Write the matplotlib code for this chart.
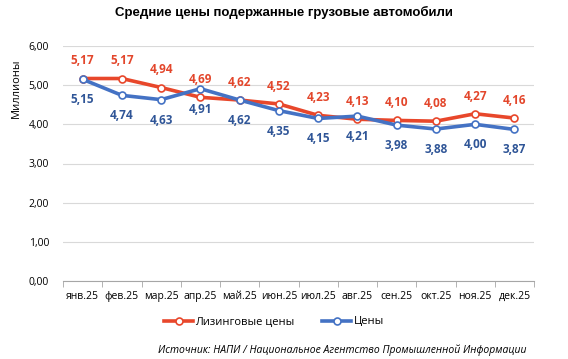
import numpy as np
import matplotlib.pyplot as plt

months = ['янв.25', 'фев.25', 'мар.25', 'апр.25', 'май.25', 'июн.25',
          'июл.25', 'авг.25', 'сен.25', 'окт.25', 'ноя.25', 'дек.25']
leasing = [5.17, 5.17, 4.94, 4.69, 4.62, 4.52, 4.23, 4.13, 4.10, 4.08, 4.27, 4.16]
prices = [5.15, 4.74, 4.63, 4.91, 4.62, 4.35, 4.15, 4.21, 3.98, 3.88, 4.00, 3.87]

RED, RED_TXT = '#E8472B', '#E3462B'
BLUE, BLUE_TXT = '#4472C4', '#2F5597'

plt.rcParams['font.family'] = ['Open Sans', 'DejaVu Sans']

fig = plt.figure(figsize=(5.68, 3.59), dpi=100)
ax = fig.add_axes([63/568, 1-281/359, (534-63)/568, (281-46)/359])

x = np.arange(len(months))
ax.plot(x, leasing, color=RED, lw=2.6, marker='o', ms=5, mfc='white',
        mec=RED, mew=1.2, label='Лизинговые цены', zorder=3)
ax.plot(x, prices, color=BLUE, lw=2.6, marker='o', ms=5, mfc='white',
        mec=BLUE, mew=1.2, label='Цены', zorder=3)

fmt = lambda v: f'{v:.2f}'.replace('.', ',')
for i in x:
    ax.annotate(fmt(leasing[i]), (i, leasing[i]), xytext=(0, 8), textcoords='offset points',
                ha='center', va='bottom', color=RED_TXT, fontsize=8.5, fontweight='bold')
    ax.annotate(fmt(prices[i]), (i, prices[i]), xytext=(0, -10), textcoords='offset points',
                ha='center', va='top', color=BLUE_TXT, fontsize=8.5, fontweight='bold')

ax.set_ylim(0, 6)
ax.set_xlim(-0.5, len(months) - 0.5)
ax.set_yticks(np.arange(0, 6.01, 1))
ax.set_yticklabels([fmt(v) for v in np.arange(0, 6.01, 1)], fontsize=7.5)
ax.set_xticks(x)
ax.set_xticklabels(months, fontsize=7.5)
ax.set_xticks(np.arange(-0.5, len(months), 1), minor=True)
ax.tick_params(axis='x', which='major', length=0, pad=7)
ax.tick_params(axis='x', which='minor', length=4, color='#A6A6A6')
ax.tick_params(axis='y', length=0, pad=10)
ax.grid(axis='y', color='#D9D9D9', lw=0.8)
ax.set_axisbelow(True)
for s in ['top', 'right', 'left']:
    ax.spines[s].set_visible(False)
ax.spines['bottom'].set_color('#A6A6A6')

ax.set_ylabel('Миллионы', fontsize=8)
ax.yaxis.set_label_coords(-0.087, 0.82)
fig.text(0.5, 1-12/359, 'Средние цены подержанные грузовые автомобили', ha='center',
         va='center', fontsize=9.5, fontweight='bold', family=['Liberation Sans', 'DejaVu Sans'])
fig.legend(loc='center', bbox_to_anchor=(274/568, 1-322/359), ncol=2, frameon=False,
           fontsize=8, handlelength=2.6, columnspacing=2.5, handletextpad=0.2)
fig.text(527/568, 1-350/359, 'Источник: НАПИ / Национальное Агентство Промышленной Информации',
         ha='right', va='center', fontsize=7.5, style='italic')

fig.savefig('out.png', dpi=100)
